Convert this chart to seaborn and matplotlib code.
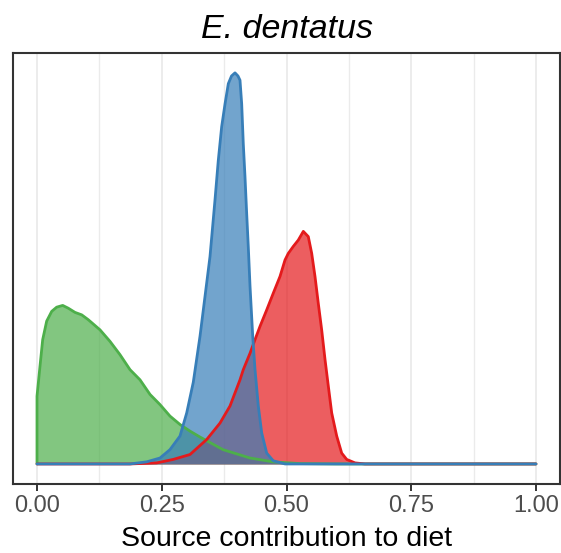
import matplotlib
matplotlib.use("Agg")
import matplotlib.pyplot as plt
import seaborn as sns
import pandas as pd

# ---- data (density, arbitrary units) ----
green_x = [0.0, 0.0, 0.006, 0.0114, 0.0194, 0.0295, 0.0395, 0.0515, 0.0627, 0.0762, 0.0896,
           0.1028, 0.1263, 0.1463, 0.1663, 0.1864, 0.2064, 0.2265, 0.2465, 0.2665, 0.2866,
           0.3066, 0.3267, 0.3727, 0.4269, 0.473, 0.527, 0.60, 1.0]
green_y = [0.0, 1.94, 2.80, 3.56, 4.09, 4.37, 4.49, 4.54, 4.46, 4.34, 4.27,
           4.13, 3.84, 3.51, 3.13, 2.70, 2.41, 1.99, 1.70, 1.37, 1.13,
           0.94, 0.77, 0.41, 0.17, 0.06, 0.01, 0.0, 0.0]

red_x = [0.0, 0.1864, 0.2399, 0.2731, 0.3066, 0.3401, 0.3667, 0.3868, 0.4068, 0.4134,
         0.4269, 0.4369, 0.4469, 0.4603, 0.4735, 0.4870, 0.4970, 0.5036, 0.5136, 0.5236,
         0.5337, 0.5437, 0.5505, 0.5571, 0.5637, 0.5705, 0.5772, 0.5838, 0.5906, 0.6006,
         0.6106, 0.6206, 0.6373, 0.6573, 1.0]
red_y = [0.0, 0.0, 0.03, 0.13, 0.27, 0.70, 1.17, 1.66, 2.41, 2.70,
         3.17, 3.56, 3.94, 4.41, 4.89, 5.37, 5.84, 6.03, 6.23, 6.41,
         6.66, 6.51, 6.03, 5.37, 4.60, 3.84, 2.99, 2.23, 1.46, 0.80,
         0.31, 0.13, 0.03, 0.0, 0.0]

blue_x = [0.0, 0.1864, 0.2198, 0.2465, 0.2665, 0.2866, 0.3000, 0.3132, 0.3267, 0.3367,
          0.3467, 0.3567, 0.3633, 0.3701, 0.3768, 0.3834, 0.3898, 0.3968, 0.4028, 0.4068,
          0.4102, 0.4134, 0.4168, 0.4202, 0.4234, 0.4269, 0.4323, 0.4369, 0.4435, 0.4503,
          0.4603, 0.4735, 0.497, 1.0]
blue_y = [0.0, 0.0, 0.06, 0.17, 0.41, 0.80, 1.46, 2.34, 3.66, 4.80,
          5.94, 7.56, 8.69, 9.66, 10.31, 10.89, 11.11, 11.20, 11.11, 10.99,
          10.31, 9.17, 8.23, 7.17, 6.23, 5.09, 3.66, 2.70, 1.66, 0.89,
          0.31, 0.09, 0.0, 0.0]

sources = ["Green source", "Red source", "Blue source"]
colors = ["#4DAF4A", "#E41A1C", "#377EB8"]
tick_vals = [0.0, 0.25, 0.5, 0.75, 1.0]
tick_labels = ["0.00", "0.25", "0.50", "0.75", "1.00"]
minor_vals = [0.125, 0.375, 0.625, 0.875]
title = "E. dentatus"
xlabel = "Source contribution to diet"

series = [(green_x, green_y), (red_x, red_y), (blue_x, blue_y)]
df = pd.concat([pd.DataFrame({"x": sx, "density": sy, "source": s})
                for (sx, sy), s in zip(series, sources)], ignore_index=True)

sns.set_style("white")
plt.rcParams["font.family"] = ["Liberation Sans", "DejaVu Sans"]

fig = plt.figure(figsize=(5.61, 5.53), dpi=100)
W, H = 561, 553
left, right, top, bottom = 13.3, 559.7, 53.3, 483.5
ax = fig.add_axes([left / W, 1 - bottom / H, (right - left) / W, (bottom - top) / H])

for s, c in zip(sources, colors):
    d = df[df.source == s]
    ax.fill_between(d["x"], 0, d["density"], color=c, alpha=0.7, linewidth=0, zorder=2)
    sns.lineplot(data=d, x="x", y="density", color=c, linewidth=2.0, sort=False,
                 estimator=None, ax=ax, zorder=3)

ymax = max(max(green_y), max(red_y), max(blue_y))
ax.set_ylim(-0.05 * ymax, 1.05 * ymax)
ax.set_xlim((left - 37) / 499, (right - 37) / 499)

ax.set_xticks(tick_vals)
ax.set_xticklabels(tick_labels)
ax.set_xticks(minor_vals, minor=True)
ax.set_yticks([])
ax.grid(False)
for v in tick_vals:
    ax.axvline(v, color="#EBEBEB", linewidth=1.3, zorder=0)
for v in minor_vals:
    ax.axvline(v, color="#EBEBEB", linewidth=1.0, zorder=0)

ax.tick_params(axis="x", which="major", length=5, width=1.4, color="#333333",
               labelsize=17, labelcolor="#4D4D4D", pad=3.5, bottom=True)
ax.tick_params(axis="x", which="minor", length=0)
for sp in ax.spines.values():
    sp.set_visible(True)
    sp.set_color("#333333")
    sp.set_linewidth(1.5)

ax.set_xlabel(xlabel, fontsize=20.5, color="black", labelpad=6)
ax.set_ylabel("")
ax.set_title(title, fontsize=24.5, style="italic", color="black", pad=11)

fig.savefig("out.png", dpi=100)
